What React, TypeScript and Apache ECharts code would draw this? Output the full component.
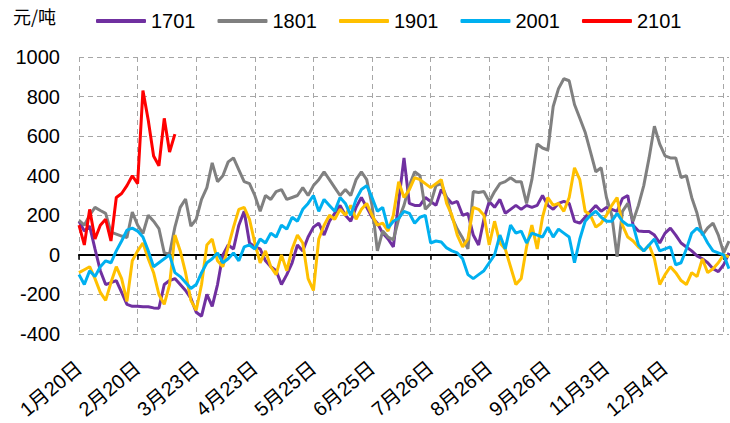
import React, { useEffect, useRef } from "react";
import * as echarts from "echarts";

const seriesNames = ["1701", "1801", "1901", "2001", "2101"];
const seriesColors = ["#7030A0", "#808080", "#FFC000", "#00B0F0", "#FF0000"];
const tickLabels = ["1月20日", "2月20日", "3月23日", "4月23日", "5月25日", "6月25日", "7月26日", "8月26日", "9月26日", "11月3日", "12月4日"];
const TICK_EVERY = 11;

const s1701 = [170, 120, 145, 30, -80, -150, -140, -130, -190, -250, -260, -260, -262, -262, -268, -270, -150, -130, -120, -150, -180, -220, -290, -310, -200, -260, -150, 0, 50, 30, 150, 220, 60, 40, 30, -30, -60, -80, -150, -100, -40, 50, 20, 90, 140, 160, 100, 170, 210, 250, 200, 170, 240, 290, 240, 190, 160, 110, 80, 40, 270, 490, 260, 250, 250, 290, 270, 250, 330, 290, 260, 270, 200, 210, 100, 50, 180, 270, 240, 280, 210, 230, 250, 230, 250, 240, 250, 300, 250, 230, 260, 270, 260, 170, 160, 190, 220, 250, 220, 240, 230, 220, 285, 300, 150, 120, 118, 118, 100, 60, 110, 135, 100, 60, 40, 20, -5, -20, -40, -70, -85, -50, 10];
const s1801 = [174, 150, 200, 240, 224, 210, 115, 105, 95, 88, 216, 150, 108, 200, 170, 133, 10, 5, 140, 240, 282, 145, 180, 280, 340, 465, 370, 400, 470, 490, 430, 370, 360, 300, 220, 300, 280, 320, 330, 280, 290, 300, 340, 300, 350, 380, 420, 380, 340, 300, 330, 300, 380, 420, 380, 250, 20, 120, 90, 76, 180, 250, 350, 420, 400, 230, 260, 350, 360, 290, 190, 130, 85, 30, 320, 315, 320, 270, 320, 360, 370, 390, 370, 370, 260, 380, 560, 540, 530, 750, 840, 890, 880, 760, 690, 620, 520, 420, 440, 290, 200, -10, 220, 260, 170, 250, 350, 490, 650, 560, 500, 490, 490, 390, 400, 290, 210, 100, 136, 160, 100, 10, 70];
const s1901 = [-90, -75, -60, -120, -190, -230, -140, -60, -120, -235, -30, 20, 60, -20, -90, -200, -250, -150, 100, 20, -90, -230, -280, -150, 50, 80, -30, -60, 40, 140, 230, 240, 180, 60, -40, 20, -60, -100, 0, -80, 30, 100, 60, -120, -180, 80, 150, 200, 180, 230, 200, 250, 180, 230, 260, 200, 150, 160, 120, 200, 370, 290, 330, 390, 380, 360, 340, 360, 380, 260, 200, 100, 40, 80, 240, 230, 200, 50, 170, 60, 30, -60, -150, -120, 40, 150, 30, 190, 290, 250, 260, 220, 290, 440, 380, 220, 200, 140, 160, 200, 250, 290, 150, 90, 70, 40, 20, 50, -20, -150, -100, -60, -90, -130, -150, -90, -110, -20, -90, -70, -40, 0, -10];
const s2001 = [-100, -150, -80, -110, -60, -30, -40, 20, 70, 125, 135, 120, 90, 20, -60, -40, -20, 0, -90, -110, -140, -170, -150, -90, -40, -20, 10, -40, -20, 10, -30, 40, 50, 30, 80, 60, 110, 90, 150, 130, 190, 170, 230, 260, 300, 220, 280, 250, 220, 290, 260, 200, 280, 330, 350, 290, 220, 240, 136, 170, 185, 220, 210, 160, 190, 200, 60, 70, 65, 35, 20, 10, -20, -100, -120, -100, -80, -40, 0, 100, 30, 150, 110, 120, 60, 110, 100, 90, 140, 90, 130, 110, 90, -40, 80, 170, 200, 220, 190, 170, 170, 210, 170, 150, 150, 50, 20, 50, 80, 20, 30, 40, -50, -40, 30, 110, 135, 110, 60, 20, 10, 0, -70];
const s2101 = [150, 50, 230, 80, 150, 180, 70, 290, 310, 350, 400, 360, 830, 680, 500, 450, 690, 520, 610];

const seriesValues = [s1701, s1801, s1901, s2001, s2101];
const categories = s1801.map((_, i) => String(i));

const NUM_FONT = "'Liberation Sans', Arial, sans-serif";
const CJK_FONT = "'Liberation Sans', 'Noto Sans CJK SC', sans-serif";

export default function App() {
  const ref = useRef<HTMLDivElement>(null);
  useEffect(() => {
    if (!ref.current) return;
    const chart = echarts.init(ref.current, null, { renderer: "svg" });
    const dashed = { type: [5, 4] as any, color: "#A6A6A6", width: 1 };
    chart.setOption({
      animation: false,
      backgroundColor: "#fff",
      grid: { left: 79, right: 1, top: 57, bottom: 89, containLabel: false, outerBoundsMode: "none" },
      graphic: [
        {
          type: "text",
          left: 13,
          top: 7,
          style: { text: "元/吨", fontSize: 18, fontFamily: "'Noto Sans CJK SC', sans-serif", fill: "#000" },
        },
      ],
      legend: {
        left: 96,
        top: 11,
        padding: 0,
        itemWidth: 50,
        itemHeight: 4,
        itemGap: 22,
        icon: "roundRect",
        data: seriesNames,
        textStyle: { fontFamily: NUM_FONT, fontSize: 20, color: "#000" },
      },
      xAxis: [
        {
          type: "category",
          data: categories,
          boundaryGap: false,
          position: "bottom",
          axisLine: { show: false, onZero: false },
          axisTick: { show: false },
          axisLabel: {
            interval: TICK_EVERY - 1,
            rotate: 40,
            margin: 31,
            fontSize: 20,
            color: "#000",
            fontFamily: CJK_FONT,
            formatter: (_v: string, idx: number) =>
              idx % TICK_EVERY === 0 ? tickLabels[idx / TICK_EVERY] ?? "" : "",
          },
          splitLine: { show: true, interval: TICK_EVERY - 1, lineStyle: dashed },
        },
        {
          type: "category",
          data: categories,
          boundaryGap: false,
          position: "top",
          axisLine: { show: true, onZero: true, lineStyle: { color: "#000", width: 2 } },
          axisTick: { show: true, inside: true, interval: TICK_EVERY - 1, length: 5, lineStyle: { color: "#000", width: 1.5 } },
          axisLabel: { show: false },
          splitLine: { show: false },
        },
      ],
      yAxis: {
        type: "value",
        min: -400,
        max: 1000,
        interval: 200,
        axisLine: { show: false },
        axisTick: { show: false },
        axisLabel: { margin: 19, fontSize: 20, color: "#000", fontFamily: NUM_FONT, formatter: (v: number) => String(v) },
        splitLine: { show: true, lineStyle: dashed },
      },
      series: seriesNames.map((name, k) => ({
        name,
        type: "line",
        xAxisIndex: 0,
        data: seriesValues[k],
        showSymbol: false,
        symbol: "none",
        color: seriesColors[k],
        lineStyle: { width: 3, color: seriesColors[k] },
      })),
    });
    return () => chart.dispose();
  }, []);
  return <div ref={ref} style={{ width: 730, height: 423, position: "absolute", left: 0, top: 0 }} />;
}
